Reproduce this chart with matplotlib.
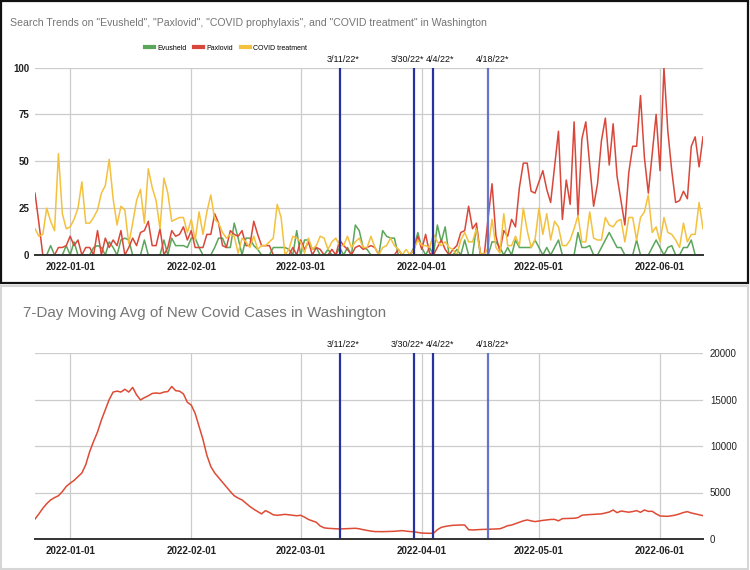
import matplotlib
matplotlib.use('Agg')
import matplotlib.dates as mdates
import matplotlib.pyplot as plt
import pandas as pd
from matplotlib.patches import Rectangle

plt.rcParams['font.family'] = ['Liberation Sans', 'DejaVu Sans']

start_date = '2021-12-23'

# daily Google Trends interest (0-100), Dec 23 2021 - Jun 12 2022
evusheld = [
    0, 0, 0, 0, 5, 0, 0, 0, 5, 0,
    7, 0, 0, 0, 0, 4, 5, 4, 0, 7,
    4, 0, 8, 9, 8, 0, 0, 0, 8, 0,
    0, 0, 0, 8, 0, 9, 5, 5, 5, 4,
    9, 9, 4, 0, 0, 0, 4, 9, 9, 4,
    4, 17, 9, 0, 9, 9, 5, 3, 0, 0,
    0, 4, 4, 4, 4, 3, 0, 13, 0, 8,
    8, 3, 4, 0, 0, 3, 0, 0, 4, 0,
    4, 0, 16, 13, 4, 3, 0, 0, 0, 13,
    10, 9, 9, 0, 0, 0, 0, 4, 12, 4,
    0, 4, 0, 16, 7, 15, 0, 0, 3, 0,
    8, 0, 0, 15, 0, 0, 0, 7, 7, 4,
    0, 4, 0, 8, 4, 4, 4, 4, 8, 4,
    0, 4, 0, 4, 8, 0, 0, 0, 0, 12,
    4, 4, 5, 0, 0, 4, 8, 12, 8, 4,
    4, 0, 0, 0, 8, 0, 0, 0, 4, 8,
    4, 0, 4, 5, 0, 0, 4, 4, 8, 0,
    0, 0,
]
paxlovid = [
    33, 17, 0, 0, 0, 0, 4, 4, 5, 10,
    5, 8, 0, 4, 4, 0, 13, 0, 9, 4,
    8, 5, 13, 0, 4, 9, 5, 12, 13, 18,
    5, 5, 14, 0, 4, 13, 10, 11, 15, 8,
    13, 4, 4, 4, 11, 11, 22, 17, 5, 4,
    13, 11, 10, 13, 5, 5, 18, 11, 5, 5,
    5, 0, 0, 0, 0, 0, 4, 0, 8, 3,
    7, 0, 4, 3, 0, 0, 3, 0, 8, 5,
    3, 0, 4, 5, 3, 4, 5, 4, 0, 0,
    0, 0, 0, 3, 0, 0, 0, 3, 10, 3,
    11, 1, 0, 4, 8, 3, 0, 3, 5, 12,
    13, 26, 14, 17, 1, 0, 20, 38, 10, 2,
    13, 10, 19, 15, 36, 49, 49, 34, 33, 39,
    45, 35, 28, 47, 66, 19, 40, 27, 71, 21,
    62, 71, 48, 26, 38, 61, 73, 48, 70, 42,
    29, 16, 44, 58, 58, 85, 52, 33, 54, 75,
    45, 100, 66, 45, 28, 29, 34, 30, 58, 63,
    47, 63,
]
covid_treatment = [
    14, 10, 11, 25, 18, 13, 54, 22, 14, 15,
    19, 25, 39, 17, 17, 20, 24, 33, 37, 51,
    30, 16, 26, 24, 6, 17, 29, 35, 17, 46,
    36, 29, 14, 41, 33, 18, 19, 20, 20, 12,
    19, 8, 23, 11, 23, 32, 19, 17, 12, 9,
    11, 10, 1, 9, 7, 4, 10, 3, 5, 5,
    7, 9, 27, 20, 0, 3, 10, 9, 7, 1,
    9, 3, 5, 10, 9, 3, 7, 9, 5, 5,
    10, 4, 7, 9, 4, 4, 10, 4, 0, 4,
    5, 9, 5, 3, 0, 3, 0, 3, 8, 5,
    5, 4, 11, 7, 5, 7, 4, 3, 0, 8,
    12, 7, 7, 14, 1, 0, 4, 19, 4, 1,
    22, 5, 5, 10, 5, 25, 13, 4, 8, 25,
    11, 22, 8, 18, 15, 5, 5, 8, 14, 21,
    7, 7, 23, 9, 8, 8, 20, 16, 15, 18,
    19, 7, 20, 20, 8, 20, 23, 32, 12, 15,
    7, 20, 12, 11, 8, 4, 17, 7, 11, 11,
    28, 14,
]

# 7-day moving average of new cases, same days
cases_7day_avg = [
    2150, 2700, 3300, 3800, 4200, 4450, 4650, 5100, 5650, 6000,
    6300, 6700, 7100, 8000, 9400, 10500, 11500, 12800, 13900, 15000,
    15800, 15900, 15800, 16100, 15800, 16300, 15500, 14950, 15200, 15400,
    15650, 15700, 15650, 15800, 15850, 16400, 15950, 15900, 15600, 14700,
    14400, 13500, 12100, 10700, 9000, 7800, 7100, 6600, 6100, 5600,
    5100, 4650, 4400, 4200, 3850, 3500, 3200, 2950, 2700, 3050,
    2850, 2600, 2550, 2600, 2650, 2600, 2550, 2500, 2550, 2350,
    2100, 1950, 1800, 1400, 1200, 1150, 1120, 1100, 1080, 1100,
    1120, 1150, 1150, 1100, 1000, 920, 850, 800, 790, 790,
    800, 800, 830, 860, 900, 850, 800, 780, 700, 640,
    620, 610, 620, 1000, 1250, 1350, 1420, 1470, 1490, 1510,
    1500, 1000, 970, 1000, 1020, 1040, 1050, 1060, 1080, 1100,
    1250, 1430, 1500, 1650, 1800, 1950, 2050, 1950, 1870, 1940,
    2000, 2050, 2100, 2110, 1950, 2190, 2200, 2210, 2230, 2300,
    2550, 2600, 2620, 2650, 2680, 2700, 2800, 2900, 3120, 2830,
    3010, 2950, 2880, 2950, 3050, 2870, 3120, 2970, 2980, 2700,
    2480, 2450, 2440, 2500, 2580, 2700, 2850, 2940, 2800, 2700,
    2600, 2510,
]

event_dates = ['2022-03-11', '2022-03-30', '2022-04-04', '2022-04-18']
event_labels = ['3/11/22*', '3/30/22*', '4/4/22*', '4/18/22*']
event_colors = ['#2732a0', '#2732a0', '#2732a0', '#6674cc']
label_shift_px = [3, -7, 7, 4]

month_ticks = ['2022-01-01', '2022-02-01', '2022-03-01', '2022-04-01', '2022-05-01', '2022-06-01']
trend_yticks = [0, 25, 50, 75, 100]
cases_yticks = [0, 5000, 10000, 15000, 20000]

dates = pd.date_range(start_date, periods=len(paxlovid), freq='D')
month_dates = pd.to_datetime(month_ticks)

W, H = 750, 570
fig = plt.figure(figsize=(W / 100, H / 100), dpi=100)


def fx(px):
    return px / W


def fy(py):
    return 1 - py / H


def style_axes(ax, yticks, ymax):
    ax.set_xlim(dates[0], dates[-1])
    ax.set_ylim(0, ymax)
    ax.set_xticks(month_dates)
    ax.xaxis.set_major_formatter(mdates.DateFormatter('%Y-%m-%d'))
    ax.set_yticks(yticks)
    ax.grid(True, color='#cccccc', lw=0.9)
    ax.set_axisbelow(True)
    for side in ['top', 'left', 'right']:
        ax.spines[side].set_visible(False)
    ax.spines['bottom'].set_color('#333333')
    ax.spines['bottom'].set_linewidth(1.4)
    ax.spines['bottom'].set_zorder(5)
    ax.tick_params(length=0, labelsize=7, labelcolor='#222222')
    for lab in ax.get_xticklabels() + ax.get_yticklabels():
        lab.set_fontweight('bold')


def add_events(ax, dy):
    for d, lab, c, dx in zip(event_dates, event_labels, event_colors, label_shift_px):
        ax.axvline(pd.Timestamp(d), color=c, lw=1.6, zorder=4)
        ax.annotate(lab, xy=(pd.Timestamp(d), 1), xycoords=('data', 'axes fraction'),
                    xytext=(dx, dy), textcoords='offset pixels',
                    ha='center', va='bottom', fontsize=6.5, color='#111111')


# --- top panel: search trends
ax1 = fig.add_axes([fx(35), fy(255), fx(703) - fx(35), fy(67.5) - fy(255)])
ax1.plot(dates, evusheld, color='#5aa65a', lw=1.1, label='Evusheld')
ax1.plot(dates, paxlovid, color='#d9473a', lw=1.1, label='Paxlovid')
ax1.plot(dates, covid_treatment, color='#f4c13e', lw=1.1, label='COVID treatment')
style_axes(ax1, trend_yticks, 100)
ax1.tick_params(axis='x', pad=5)
ax1.tick_params(axis='y', pad=4)
add_events(ax1, 3)
ax1.legend(loc='center', bbox_to_anchor=(fx(226), fy(48)), bbox_transform=fig.transFigure,
           ncol=3, frameon=False, fontsize=5, handlelength=1.3, handletextpad=0.5,
           columnspacing=1.1, borderpad=0)
for line in ax1.get_legend().get_lines():
    line.set_linewidth(3)

fig.text(fx(10), fy(23), 'Search Trends on "Evusheld", "Paxlovid", "COVID prophylaxis", '
         'and "COVID treatment" in Washington', fontsize=7.6, color='#757575',
         ha='left', va='center')

# --- bottom panel: 7-day moving average of cases
ax2 = fig.add_axes([fx(35), fy(539), fx(703) - fx(35), fy(353) - fy(539)])
ax2.plot(dates, cases_7day_avg, color='#dd4b35', lw=1.1)
style_axes(ax2, cases_yticks, 20000)
ax2.yaxis.tick_right()
ax2.tick_params(axis='x', pad=5)
ax2.tick_params(axis='y', pad=5)
add_events(ax2, 4)

fig.text(fx(23), fy(313), '7-Day Moving Avg of New Covid Cases in Washington',
         fontsize=10.9, color='#757575', ha='left', va='center')

# panel frames
fig.add_artist(Rectangle((fx(1), fy(283)), fx(747), 282 / H, transform=fig.transFigure,
                         fill=False, edgecolor='#111111', lw=1.6))
fig.add_artist(Rectangle((fx(1), fy(569)), fx(747), 283 / H, transform=fig.transFigure,
                         fill=False, edgecolor='#d6d6d6', lw=1.5))

fig.savefig('out.png', dpi=100)
